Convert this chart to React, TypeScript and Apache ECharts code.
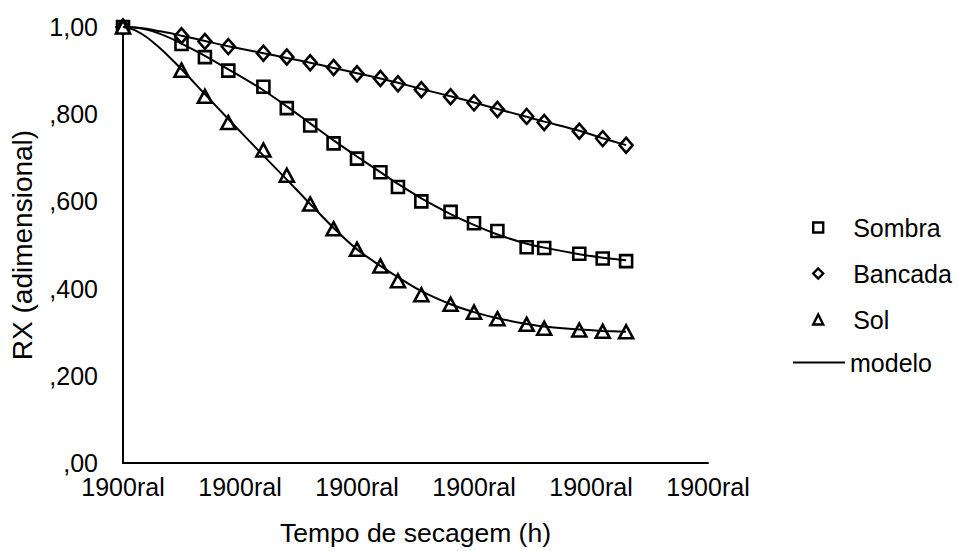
import React, { useEffect, useRef } from "react";
import * as echarts from "echarts";

// Drying time (x positions of the observations)
const times = [0, 0.5, 0.7, 0.9, 1.2, 1.4, 1.6, 1.8, 2.0, 2.2, 2.35, 2.55, 2.8, 3.0, 3.2, 3.45, 3.6, 3.9, 4.1, 4.3];
const sombra = [1.0, 0.961, 0.931, 0.900, 0.863, 0.814, 0.774, 0.733, 0.698, 0.667, 0.633, 0.600, 0.576, 0.550, 0.532, 0.495, 0.493, 0.480, 0.469, 0.463];
const bancada = [1.0, 0.980, 0.967, 0.955, 0.940, 0.931, 0.918, 0.907, 0.893, 0.882, 0.870, 0.856, 0.840, 0.826, 0.811, 0.795, 0.781, 0.761, 0.744, 0.729];
const sol = [1.0, 0.901, 0.841, 0.781, 0.718, 0.660, 0.594, 0.537, 0.490, 0.452, 0.418, 0.386, 0.364, 0.346, 0.331, 0.318, 0.309, 0.305, 0.302, 0.301];

// Model curves
const modelTimes = [0, 0.1, 0.2, 0.3, 0.4, 0.5, 0.7, 0.9, 1.2, 1.4, 1.6, 1.8, 2.0, 2.2, 2.35, 2.55, 2.8, 3.0, 3.2, 3.45, 3.6, 3.9, 4.1, 4.3];
const modelSombra = [1.0, 0.999, 0.994, 0.986, 0.975, 0.962, 0.934, 0.903, 0.855, 0.818, 0.779, 0.740, 0.703, 0.667, 0.640, 0.607, 0.571, 0.546, 0.524, 0.503, 0.494, 0.479, 0.471, 0.465];
const modelBancada = [1.0, 0.999, 0.996, 0.991, 0.986, 0.980, 0.968, 0.956, 0.940, 0.929, 0.918, 0.906, 0.894, 0.882, 0.872, 0.858, 0.841, 0.827, 0.812, 0.794, 0.783, 0.762, 0.745, 0.729];
const modelSol = [1.0, 0.993, 0.977, 0.955, 0.930, 0.903, 0.846, 0.789, 0.705, 0.650, 0.594, 0.539, 0.490, 0.452, 0.426, 0.394, 0.364, 0.346, 0.332, 0.319, 0.313, 0.306, 0.303, 0.301];

const xTickLabels = ["1900ral", "1900ral", "1900ral", "1900ral", "1900ral", "1900ral"];
const yTickLabels = [",00", ",200", ",400", ",600", ",800", "1,00"];

const FONT = "'Liberation Sans', Arial, sans-serif";
const FS = 25;

function pairs(xs: number[], ys: number[]) {
  return xs.map((x, i) => [x, ys[i]]);
}

export default function App() {
  const ref = useRef<HTMLDivElement>(null);
  useEffect(() => {
    if (!ref.current) return;
    const chart = echarts.init(ref.current, undefined, { renderer: "svg" });
    const markerStyle = { color: "#fff", borderColor: "#000", borderWidth: 2.6, opacity: 1 };
    const lineSeries = (data: number[]) => ({
      name: "modelo",
      type: "line",
      data: pairs(modelTimes, data),
      smooth: 0.3,
      symbol: "none",
      showSymbol: false,
      lineStyle: { color: "#000", width: 2 },
      itemStyle: { color: "#000" },
      z: 5,
    });
    chart.setOption({
      animation: false,
      backgroundColor: "#fff",
      textStyle: { fontFamily: FONT },
      grid: { left: 120, right: 250, top: 27, bottom: 82 },
      xAxis: {
        type: "value",
        min: 0,
        max: 5,
        interval: 1,
        name: "Tempo de secagem (h)",
        nameLocation: "middle",
        nameGap: 56,
        nameTextStyle: { fontSize: 26.5, color: "#000", fontFamily: FONT, verticalAlign: "top" },
        axisLine: { lineStyle: { color: "#000", width: 2 } },
        axisTick: { show: false },
        splitLine: { show: false },
        axisLabel: {
          fontSize: FS,
          color: "#000",
          fontFamily: FONT,
          margin: 11,
          formatter: (v: number) => xTickLabels[Math.round(v)],
        },
      },
      yAxis: {
        type: "value",
        min: 0,
        max: 1,
        interval: 0.2,
        name: "RX (adimensional)",
        nameLocation: "middle",
        nameGap: 87,
        nameTextStyle: { fontSize: 28, color: "#000", fontFamily: FONT },
        axisLine: { show: true, lineStyle: { color: "#000", width: 2 } },
        axisTick: { show: false },
        splitLine: { show: false },
        axisLabel: {
          fontSize: FS,
          color: "#000",
          fontFamily: FONT,
          margin: 25,
          formatter: (v: number) => yTickLabels[Math.round(v / 0.2)],
        },
      },
      legend: [
        {
          data: ["Sombra", "Bancada", "Sol"],
          orient: "vertical",
          left: 812,
          top: 215,
          padding: 0,
          itemWidth: 10,
          itemHeight: 10,
          itemGap: 21,
          itemStyle: { borderWidth: 2.4 },
          textStyle: { fontSize: FS, lineHeight: 24, color: "#000", fontFamily: FONT, padding: [0, 0, 0, 25] },
        },
        {
          data: [{ name: "modelo", icon: "rect" }],
          orient: "vertical",
          left: 793,
          top: 350,
          padding: 0,
          itemWidth: 52,
          itemHeight: 2,
          textStyle: { fontSize: FS, lineHeight: 24, color: "#000", fontFamily: FONT },
        },
      ],
      series: [
        { name: "Sombra", type: "scatter", data: pairs(times, sombra), symbol: "rect", symbolSize: 12, itemStyle: markerStyle, z: 3 },
        { name: "Bancada", type: "scatter", data: pairs(times, bancada), symbol: "diamond", symbolSize: [13, 15], itemStyle: markerStyle, z: 3 },
        { name: "Sol", type: "scatter", data: pairs(times, sol), symbol: "triangle", symbolSize: [14, 13], itemStyle: markerStyle, z: 3 },
        lineSeries(modelSombra),
        lineSeries(modelBancada),
        lineSeries(modelSol),
      ],
    });
    return () => chart.dispose();
  }, []);
  return <div ref={ref} style={{ position: "fixed", left: 0, top: 0, width: 958, height: 551 }} />;
}
